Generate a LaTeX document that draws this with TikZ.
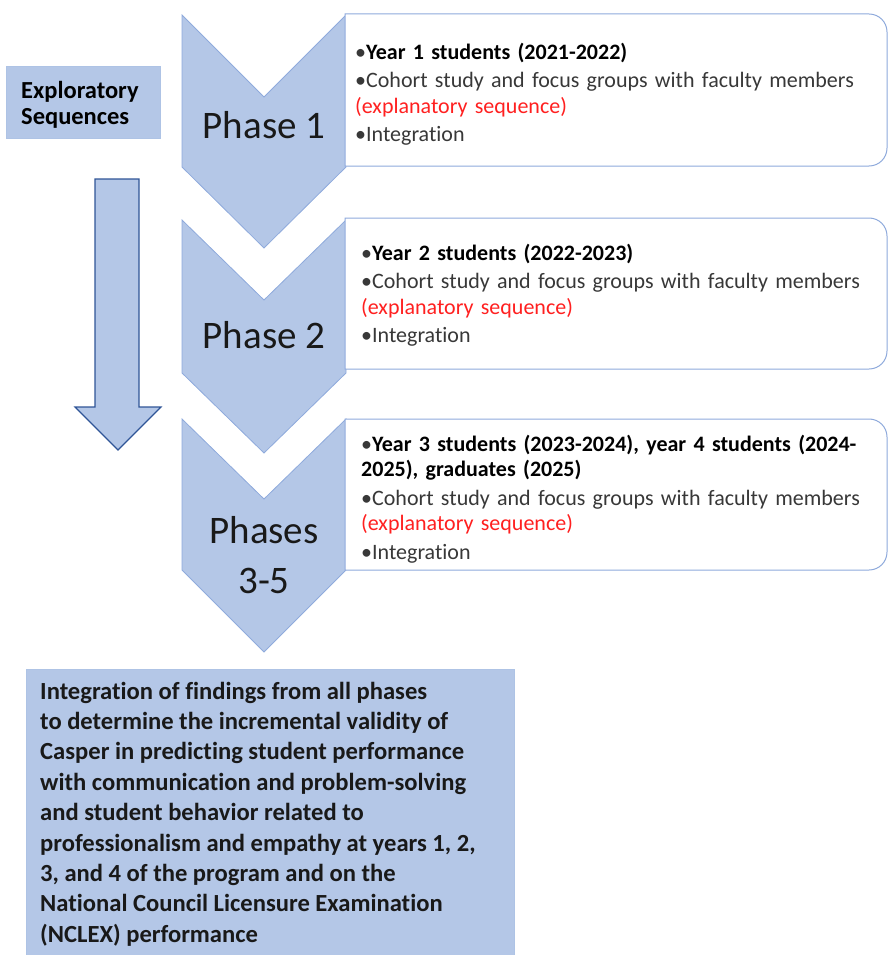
\documentclass[tikz,border=0pt]{standalone}
\usepackage{fontspec}
\setmainfont{Carlito}[Ligatures=NoCommon]
\definecolor{paleblue}{HTML}{B4C7E7}
\definecolor{edgeblue}{HTML}{8FAADC}
\definecolor{darkblue}{HTML}{2F5597}
\definecolor{bodygray}{HTML}{383838}
\definecolor{redtext}{HTML}{FF2020}
\newcommand{\itm}[1]{\par\hangindent=9pt\hangafter=1\noindent\textbullet#1}

\begin{document}
\begin{tikzpicture}[x=1pt, y=-1pt,
  chevron/.style = {fill=paleblue, draw=edgeblue, line width=0.8pt},
  infobox/.style = {draw=edgeblue, line width=1pt, fill=white},
  flatbox/.style = {fill=paleblue, draw=paleblue!85!edgeblue, line width=0.6pt},
  phase/.style = {font=\fontsize{39}{50}\selectfont, text=black!90, align=center, inner sep=0pt},
  boxtext/.style = {anchor=west, text width=525pt, inner sep=0pt, align=left, text=bodygray,
    font=\fontsize{22}{25.5}\selectfont\setlength{\parskip}{3pt}}]
\useasboundingbox (0,0) rectangle (888,955);

% left label and arrow
\draw[flatbox] (6,66) rectangle (160,138);
\node[anchor=west, inner sep=0pt, align=left, font=\fontsize{24.5}{26.5}\bfseries\selectfont] (explo) at (21,105) {Exploratory\\Sequences};
\draw[fill=paleblue, draw=darkblue, line width=1.1pt] (95,179) -- (139,179) -- (139,407) -- (161,407) -- (118,450) -- (75,407) -- (95,407) -- cycle;

% chevrons
\draw[chevron] (182,15) -- (264,97) -- (346,15) -- (346,167) -- (264,248) -- (182,167) -- cycle;
\draw[chevron] (182,220) -- (264,300) -- (346,220) -- (346,373) -- (264,453) -- (182,373) -- cycle;
\draw[chevron] (182,419) -- (264,499) -- (346,419) -- (346,570) -- (264,652) -- (182,570) -- cycle;
\node[phase] (phaseone) at (264,125) {Phase 1};
\node[phase] (phasetwo) at (264,335) {Phase 2};
\node[phase] (phaserest) at (264,555) {Phases\\3-5};

% detail boxes
\draw[infobox] (345,14) -- (869,14) .. controls (879,14) and (887,22) .. (887,32) -- (887,148) .. controls (887,158) and (879,166) .. (869,166) -- (345,166) -- cycle;
\draw[infobox] (345,218) -- (869,218) .. controls (879,218) and (887,226) .. (887,236) -- (887,351) .. controls (887,361) and (879,369) .. (869,369) -- (345,369) -- cycle;
\draw[infobox] (345,419) -- (869,419) .. controls (879,419) and (887,427) .. (887,437) -- (887,552) .. controls (887,562) and (879,570) .. (869,570) -- (345,570) -- cycle;

\node[boxtext] (yearone) at (355,88) {%
  \itm{\textcolor{black}{\bfseries Year 1 students (2021-2022)}}
  \itm{Cohort study and focus groups with faculty members\\\textcolor{redtext}{(explanatory sequence)}}
  \itm{Integration}};
\node[boxtext] (yeartwo) at (361,289) {%
  \itm{\textcolor{black}{\bfseries Year 2 students (2022-2023)}}
  \itm{Cohort study and focus groups with faculty members\\\textcolor{redtext}{(explanatory sequence)}}
  \itm{Integration}};
\node[boxtext] (yearrest) at (361,493) {%
  \itm{\textcolor{black}{\bfseries Year 3 students (2023-2024), year 4 students (2024-\\2025), graduates (2025)}}
  \itm{Cohort study and focus groups with faculty members\\\textcolor{redtext}{(explanatory sequence)}}
  \itm{Integration}};

% final integration box
\draw[flatbox] (26,669) rectangle (514,960);
\node[anchor=west, inner sep=0pt, align=left, text=black!90, font=\fontsize{24.6}{30.4}\bfseries\selectfont] (findings) at (40,814) {%
  Integration of findings from all phases\\
  to determine the incremental validity of\\
  Casper in predicting student performance\\
  with communication and problem-solving\\
  and student behavior related to\\
  professionalism and empathy at years 1, 2,\\
  3, and 4 of the program and on the\\
  National Council Licensure Examination\\
  (NCLEX) performance};
\end{tikzpicture}
\end{document}
